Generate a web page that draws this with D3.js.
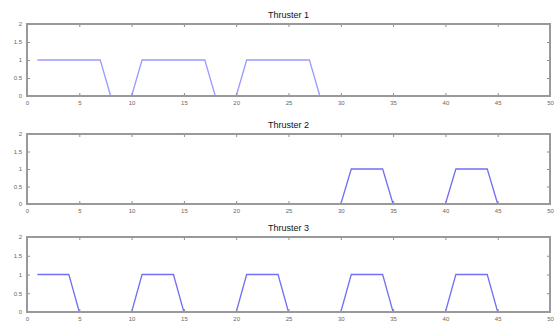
<!DOCTYPE html>
<html>
<head>
<meta charset="utf-8">
<script src="https://cdn.jsdelivr.net/npm/d3@7"></script>
<style>
  html, body { margin: 0; padding: 0; background: #fff; }
  svg { display: block; }
</style>
</head>
<body>
<svg id="chart" width="558" height="322"></svg>
<script>
// Thruster on/off profiles over time (time, thrust level)
const titles = ["Thruster 1", "Thruster 2", "Thruster 3"];
const thruster1 = [[1,1],[7,1],[8,0],[10,0],[11,1],[17,1],[18,0],[20,0],[21,1],[27,1],[28,0],[50,0]];
const thruster2 = [[1,0],[30,0],[31,1],[34,1],[35,0],[40,0],[41,1],[44,1],[45,0],[50,0]];
const thruster3 = [[1,1],[4,1],[5,0],[10,0],[11,1],[14,1],[15,0],[20,0],[21,1],[24,1],[25,0],[30,0],[31,1],[34,1],[35,0],[40,0],[41,1],[44,1],[45,0]];
const xTicks = [0,5,10,15,20,25,30,35,40,45,50];
const yTicks = [0,0.5,1,1.5,2];

const series = [thruster1, thruster2, thruster3];
const lineColors = ["#9a9aff", "#7070f4", "#7070f4"];
const panels = [[24, 96], [134, 204], [237, 312]];
const left = 27, right = 550;

const svg = d3.select("#chart");
const x = d3.scaleLinear().domain([0, 50]).range([left, right]);

panels.forEach(([top, bottom], i) => {
  const y = d3.scaleLinear().domain([0, 2]).range([bottom, top]);
  const g = svg.append("g");

  // data line (drawn beneath the axes box, which hides the zero level)
  g.append("path")
    .datum(series[i])
    .attr("fill", "none")
    .attr("stroke", lineColors[i])
    .attr("stroke-width", 1.3)
    .attr("d", d3.line().x(d => x(d[0])).y(d => y(d[1])));

  const styleAxis = (sel, labels) => {
    sel.select(".domain").remove();
    sel.selectAll("line").attr("stroke", "#8c8c8c").attr("stroke-width", 1);
    sel.selectAll("text")
      .attr("fill", "#666")
      .style("font-family", "Liberation Sans, Arial, sans-serif")
      .style("font-size", "6px");
    if (!labels) sel.selectAll("text").remove();
  };

  // bottom ticks with labels, inward
  g.append("g").attr("transform", `translate(0,${bottom})`)
    .call(d3.axisBottom(x).tickValues(xTicks).tickSizeInner(-3).tickSizeOuter(0).tickPadding(5).tickFormat(d3.format("d")))
    .call(s => styleAxis(s, true));
  // top ticks, inward
  g.append("g").attr("transform", `translate(0,${top})`)
    .call(d3.axisTop(x).tickValues(xTicks).tickSizeInner(-3).tickSizeOuter(0))
    .call(s => styleAxis(s, false));
  // left ticks with labels, inward
  g.append("g").attr("transform", `translate(${left},0)`)
    .call(d3.axisLeft(y).tickValues(yTicks).tickSizeInner(-3).tickSizeOuter(0).tickPadding(5).tickFormat(d3.format("~g")))
    .call(s => styleAxis(s, true));
  // right ticks, inward
  g.append("g").attr("transform", `translate(${right},0)`)
    .call(d3.axisRight(y).tickValues(yTicks).tickSizeInner(-3).tickSizeOuter(0))
    .call(s => styleAxis(s, false));

  // axes box
  g.append("rect")
    .attr("x", left).attr("y", top)
    .attr("width", right - left).attr("height", bottom - top)
    .attr("fill", "none").attr("stroke", "#999").attr("stroke-width", 2);

  // panel title
  g.append("text")
    .attr("x", (left + right) / 2).attr("y", top - 6)
    .attr("text-anchor", "middle")
    .attr("fill", "#111")
    .style("font-family", "Liberation Sans, Arial, sans-serif")
    .style("font-size", "9px")
    .style("font-weight", "500")
    .text(titles[i]);
});
</script>
</body>
</html>
